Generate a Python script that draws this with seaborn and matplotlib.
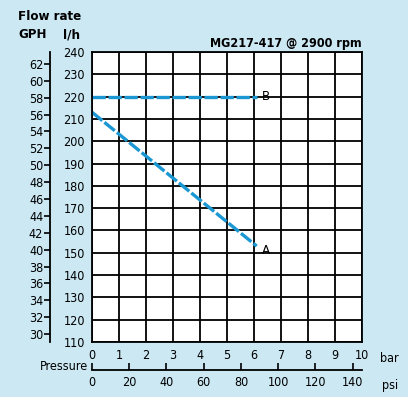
import numpy as np
import pandas as pd
import matplotlib
matplotlib.use("Agg")
import matplotlib.pyplot as plt
import seaborn as sns

# data
curve_names = ["A", "B"]
pressure_a = [0.0, 6.1]
flow_a = [213, 153]
pressure_b = [0.0, 6.1]
flow_b = [220, 220]
bar_ticks = list(range(0, 11))
lh_ticks = list(range(110, 241, 10))
gph_ticks = list(range(30, 63, 2))
psi_ticks = list(range(0, 141, 20))

BG = "#cbe8f3"
LINE = "#1b98d3"

sns.set_theme(style="white")
plt.rcParams["font.family"] = ["DejaVu Sans"]
plt.rcParams["font.stretch"] = "condensed"
plt.rcParams["text.color"] = "black"
plt.rcParams["xtick.color"] = "black"
plt.rcParams["ytick.color"] = "black"

df = pd.DataFrame({
    "pressure": pressure_a + pressure_b,
    "flow": flow_a + flow_b,
    "curve": [curve_names[0]] * len(pressure_a) + [curve_names[1]] * len(pressure_b),
})

fig = plt.figure(figsize=(4.08, 3.97), dpi=100)
fig.patch.set_facecolor(BG)
ax = fig.add_axes([92 / 408, 1 - 342 / 397, 270 / 408, 290 / 397])
ax.set_facecolor("white")

sns.lineplot(data=df, x="pressure", y="flow", hue="curve", palette=[LINE, LINE],
             linewidth=2.4, legend=False, ax=ax)
for ln in ax.get_lines():
    ln.set_dashes([4, 0.8])
    ln.set_solid_capstyle("butt")

ax.set_xlim(0, 10)
ax.set_ylim(110, 240)
ax.set_xticks(bar_ticks)
ax.set_yticks(lh_ticks)
ax.grid(True, color="black", linewidth=1.3)
ax.set_axisbelow(True)
for s in ax.spines.values():
    s.set_color("black")
    s.set_linewidth(1.3)
ax.tick_params(axis="both", direction="out", length=4, width=1.2, color="black",
               labelsize=9, pad=1)
ax.set_xlabel("")
ax.set_ylabel("")

# label ends of curves
ax.text(pressure_a[-1] + 0.2, flow_a[-1] - 2, curve_names[0], fontsize=9.5, va="center")
ax.text(pressure_b[-1] + 0.2, flow_b[-1], curve_names[1], fontsize=9.5, va="center")

# GPH secondary axis
gph = ax.secondary_yaxis(-0.155, functions=(lambda v: v / 3.785, lambda v: v * 3.785))
gph.set_yticks(gph_ticks)
gph.spines["left"].set_linewidth(1.3)
gph.spines["left"].set_color("black")
gph.tick_params(direction="out", length=4, width=1.2, labelsize=9, pad=1)

# psi secondary axis
psi = ax.secondary_xaxis(-0.097, functions=(lambda v: v * 14.5, lambda v: v / 14.5))
psi.set_xticks(psi_ticks)
psi.spines["bottom"].set_linewidth(1.3)
psi.spines["bottom"].set_color("black")
psi.tick_params(direction="in", length=5, width=1.2, labelsize=9, pad=4)

fig.text(18 / 408, 1 - 16 / 397, "Flow rate", fontsize=9.5, fontweight="bold", va="center")
fig.text(18 / 408, 1 - 35 / 397, "GPH", fontsize=9.5, fontweight="bold", va="center")
fig.text(63 / 408, 1 - 35 / 397, "l/h", fontsize=9.5, fontweight="bold", va="center")
fig.text(362 / 408, 1 - 43 / 397, "MG217-417 @ 2900 rpm", fontsize=9, fontweight="bold",
         ha="right", va="center")
fig.text(380 / 408, 1 - 358 / 397, "bar", fontsize=9, va="center")
fig.text(382 / 408, 1 - 385 / 397, "psi", fontsize=9, va="center")
fig.text(88 / 408, 1 - 367 / 397, "Pressure", fontsize=9, ha="right", va="center")

fig.savefig("out.png", dpi=100, facecolor=BG)
